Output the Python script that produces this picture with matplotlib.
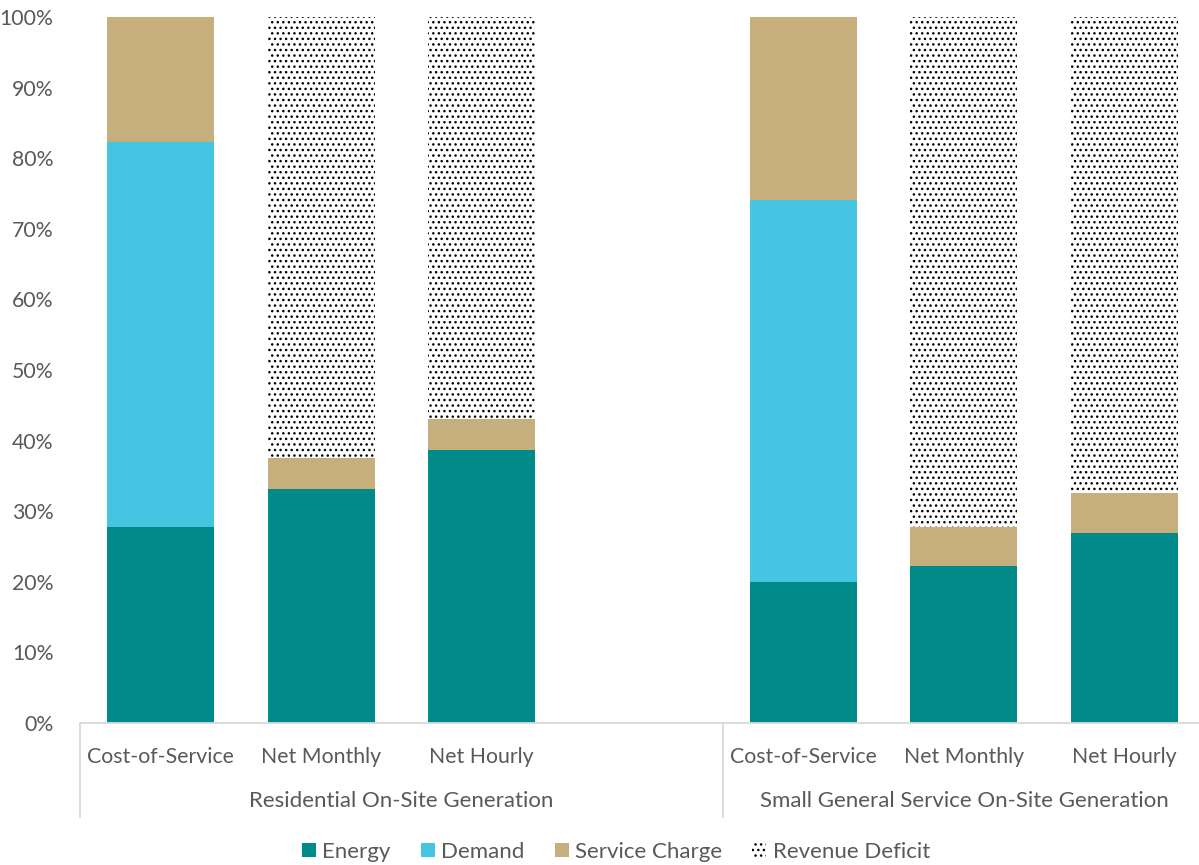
import matplotlib
matplotlib.use("Agg")
import matplotlib.pyplot as plt
from matplotlib.patches import Patch
import matplotlib.transforms as mtransforms

plt.rcParams['font.family'] = ['Lato', 'DejaVu Sans']
plt.rcParams['hatch.linewidth'] = 1.0
plt.rcParams['hatch.color'] = 'black'

categories = ["Cost-of-Service", "Net Monthly", "Net Hourly",
              "Cost-of-Service", "Net Monthly", "Net Hourly"]
groups = ["Residential On-Site Generation", "Small General Service On-Site Generation"]
energy = [27.7, 33.2, 38.6, 20.0, 22.2, 26.9]
demand = [54.6, 0.0, 0.0, 54.1, 0.0, 0.0]
service = [17.7, 4.3, 4.4, 25.9, 5.5, 5.7]
deficit = [0.0, 62.5, 57.0, 0.0, 72.3, 67.4]
yticks = [0, 10, 20, 30, 40, 50, 60, 70, 80, 90, 100]

c_energy = '#008A8A'
c_demand = '#46C5E3'
c_service = '#C6AF7C'
txt = '#595959'
axc = '#D9D9D9'

fig = plt.figure(figsize=(11.99, 8.65), dpi=100)
ax = fig.add_axes([80/1199, 1-723/865, 1125/1199, (723-17)/865])

pos = [0, 1, 2, 4, 5, 6]
w = 0.666
b1 = energy
b2 = [e + d for e, d in zip(energy, demand)]
b3 = [a + s for a, s in zip(b2, service)]
ax.bar(pos, energy, w, color=c_energy)
ax.bar(pos, demand, w, bottom=b1, color=c_demand)
ax.bar(pos, service, w, bottom=b2, color=c_service)
ax.bar(pos, deficit, w, bottom=b3, color='white', hatch='...', edgecolor='black', linewidth=0)

ax.set_xlim(-0.5, 6.5)
ax.set_ylim(0, 100)
ax.set_yticks(yticks)
ax.set_yticklabels([f"{v}%" for v in yticks])
ax.set_xticks(pos)
ax.set_xticklabels(categories)
ax.tick_params(axis='both', length=0, labelsize=15.3, labelcolor=txt)
ax.tick_params(axis='y', pad=19)
ax.tick_params(axis='x', pad=17)
for s in ['top', 'right', 'left']:
    ax.spines[s].set_visible(False)
ax.spines['bottom'].set_color(axc)
ax.spines['bottom'].set_linewidth(1.3)

trans = mtransforms.blended_transform_factory(ax.transData, ax.transAxes)
ylow = -94/706
for xs in [-0.5, 3.5]:
    ax.plot([xs, xs], [0, ylow], transform=trans, color=axc, lw=1.3, clip_on=False)
ax.text(1.5, -78/706, groups[0], transform=trans, ha='center', va='center', fontsize=16, color=txt)
ax.text(5.0, -78/706, groups[1], transform=trans, ha='center', va='center', fontsize=16, color=txt)

handles = [Patch(facecolor=c_energy, label='Energy'),
           Patch(facecolor=c_demand, label='Demand'),
           Patch(facecolor=c_service, label='Service Charge'),
           Patch(facecolor='white', hatch='...', edgecolor='black', linewidth=0, label='Revenue Deficit')]
leg = fig.legend(handles=handles, loc='center', bbox_to_anchor=(616/1199, 1-852/865), ncol=4,
                 frameon=False, fontsize=16, handlelength=0.63, handleheight=0.63,
                 handletextpad=0.3, columnspacing=1.35)
for t in leg.get_texts():
    t.set_color(txt)

fig.savefig('out.png', dpi=100)
